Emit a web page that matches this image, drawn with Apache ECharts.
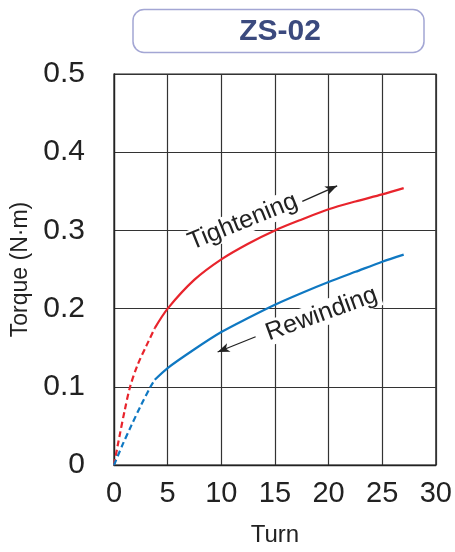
<!DOCTYPE html>
<html>
<head>
<meta charset="utf-8">
<script src="https://cdn.jsdelivr.net/npm/echarts@6/dist/echarts.min.js"></script>
<style>
html,body{margin:0;padding:0;background:#fff;}
#chart{width:455px;height:552px;}
</style>
</head>
<body>
<div id="chart"></div>
<script>
// ---- data ----
const chartTitle = 'ZS-02';
const xAxisName = 'Turn';
const yAxisName = 'Torque (N·m)';
const xTicks = ['0', '5', '10', '15', '20', '25', '30'];
const yTicks = ['0', '0.1', '0.2', '0.3', '0.4', '0.5'];

// Tightening (red): dashed start-up part, then solid part
const tightenDashTurn   = [0, 0.5, 1.0, 1.5, 2.2, 3.0, 3.8];
const tightenDashTorque = [0, 0.036, 0.07, 0.10, 0.128, 0.152, 0.175];
const tightenTurn   = [3.8, 5, 7.5, 10, 12.5, 15, 17.5, 20, 22.5, 25, 27];
const tightenTorque = [0.175, 0.2, 0.237, 0.263, 0.283, 0.300, 0.314, 0.327, 0.337, 0.346, 0.354];

// Rewinding (blue)
const rewindDashTurn   = [0, 0.8, 1.6, 2.5, 3.4, 3.8];
const rewindDashTorque = [0, 0.026, 0.05, 0.076, 0.100, 0.109];
const rewindTurn   = [3.8, 5, 7.5, 10, 12.5, 15, 17.5, 20, 22.5, 25, 27];
const rewindTorque = [0.109, 0.124, 0.148, 0.170, 0.188, 0.205, 0.220, 0.234, 0.247, 0.260, 0.269];

// annotation labels (data coords) and arrows
const tightenLabel = {text: 'Tightening', at: [12.0, 0.311], angle: 22};
const rewindLabel  = {text: 'Rewinding',  at: [19.35, 0.193], angle: 20};
const tightenArrow = [[17.55, 0.337], [20.8, 0.357]];
const rewindArrow  = [[13.2, 0.164], [9.66, 0.1445]];

const zip = (a, b) => a.map((v, i) => [v, b[i]]);
const RED = '#e8242c', BLUE = '#0f78c2';
const FONT = '"Liberation Sans", Arial, sans-serif';

const chart = echarts.init(document.getElementById('chart'), null, {renderer: 'canvas'});

function arrowMark(pts) {
  return {
    silent: true,
    symbol: ['none', 'arrow'],
    symbolSize: [7, 12],
    label: {show: false},
    lineStyle: {color: '#222', width: 1.3, type: 'solid'},
    emphasis: {disabled: true},
    data: [[{coord: pts[0]}, {coord: pts[1]}]]
  };
}

const option = {
  animation: false,
  backgroundColor: '#fff',
  grid: {left: 114, right: 18, top: 74, bottom: 86, show: true, borderColor: '#222', borderWidth: 1.2},
  xAxis: {
    type: 'value', min: 0, max: 30, interval: 5,
    axisLine: {show: true, lineStyle: {color: '#222', width: 1.3}},
    axisTick: {show: false},
    splitLine: {show: true, lineStyle: {color: '#333', width: 1.2}},
    axisLabel: {
      fontSize: 29, color: '#222', fontFamily: FONT, margin: 14,
      formatter: v => xTicks[Math.round(v / 5)]
    },
    name: xAxisName, nameLocation: 'middle', nameGap: 58,
    nameTextStyle: {fontSize: 24, color: '#222', fontFamily: FONT}
  },
  yAxis: {
    type: 'value', min: 0, max: 0.5, interval: 0.1,
    axisLine: {show: true, lineStyle: {color: '#222', width: 1.3}},
    axisTick: {show: false},
    splitLine: {show: true, lineStyle: {color: '#333', width: 1.2}},
    axisLabel: {
      fontSize: 30, color: '#222', fontFamily: FONT, margin: 29,
      formatter: v => yTicks[Math.round(v * 10)]
    },
    name: yAxisName, nameLocation: 'middle', nameRotate: 90, nameGap: 80,
    nameTextStyle: {fontSize: 23, color: '#222', fontFamily: FONT}
  },
  series: [
    {type: 'line', data: zip(tightenDashTurn, tightenDashTorque), smooth: 0.3, showSymbol: false,
     lineStyle: {color: RED, width: 2.2, type: [6, 3.5]}, z: 3},
    {type: 'line', data: zip(tightenTurn, tightenTorque), smooth: 0.3, showSymbol: false,
     lineStyle: {color: RED, width: 2.2}, z: 3, markLine: arrowMark(tightenArrow)},
    {type: 'line', data: zip(rewindDashTurn, rewindDashTorque), smooth: 0.3, showSymbol: false,
     lineStyle: {color: BLUE, width: 2.2, type: [6, 3.5]}, z: 3},
    {type: 'line', data: zip(rewindTurn, rewindTorque), smooth: 0.3, showSymbol: false,
     lineStyle: {color: BLUE, width: 2.2}, z: 3, markLine: arrowMark(rewindArrow)}
  ]
};
chart.setOption(option);

function labelGraphic(lbl) {
  const p = chart.convertToPixel({gridIndex: 0}, lbl.at);
  return {
    type: 'text', x: p[0], y: p[1], rotation: lbl.angle * Math.PI / 180, z: 10,
    style: {
      text: lbl.text, fontSize: 25, fontFamily: FONT, fill: '#222',
      align: 'center', verticalAlign: 'middle',
      backgroundColor: '#fff', padding: [0, 3]
    }
  };
}

chart.setOption({
  graphic: [
    {type: 'rect', shape: {x: 133, y: 9.5, width: 291, height: 43, r: 11},
     style: {fill: '#fff', stroke: '#a3a6d4', lineWidth: 1.5}, z: 10},
    {type: 'text', x: 280, y: 32, z: 11,
     style: {text: chartTitle, fontSize: 30, fontWeight: 'bold', fontFamily: FONT, fill: '#3b4a7e',
             align: 'center', verticalAlign: 'middle'}},
    labelGraphic(tightenLabel),
    labelGraphic(rewindLabel)
  ]
});
</script>
</body>
</html>
